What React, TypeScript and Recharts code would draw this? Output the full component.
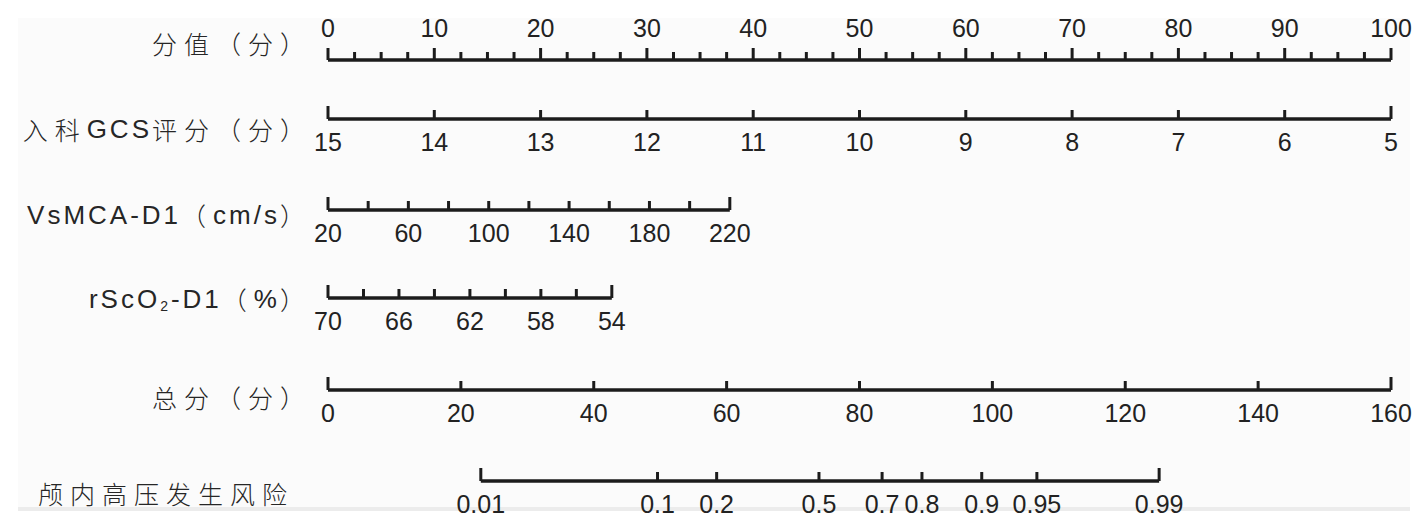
import { ScatterChart, Scatter, XAxis, YAxis, ReferenceLine } from 'recharts'

// row names (left column)
const rowNames = ['分值（分）', '入科GCS评分（分）', 'VsMCA-D1（cm/s）', 'rScO2-D1（%）', '总分（分）', '颅内高压发生风险']

// points scale
const pointMajor = [0, 10, 20, 30, 40, 50, 60, 70, 80, 90, 100]
const pointMinor = [2.5, 5, 7.5, 12.5, 15, 17.5, 22.5, 25, 27.5, 32.5, 35, 37.5, 42.5, 45, 47.5, 52.5, 55, 57.5,
  62.5, 65, 67.5, 72.5, 75, 77.5, 82.5, 85, 87.5, 92.5, 95, 97.5]

// GCS on admission
const gcsTicks = [15, 14, 13, 12, 11, 10, 9, 8, 7, 6, 5]
const gcsEnds = [15, 5]
const gcsMaxPoints = 100

// VsMCA-D1
const vsmcaTicks = [20, 40, 60, 80, 100, 120, 140, 160, 180, 200, 220]
const vsmcaLabels = [20, 60, 100, 140, 180, 220]
const vsmcaEnds = [20, 220]
const vsmcaMaxPoints = 37.8

// rScO2-D1
const rsco2Ticks = [70, 68, 66, 64, 62, 60, 58, 56, 54]
const rsco2Labels = [70, 66, 62, 58, 54]
const rsco2Ends = [70, 54]
const rsco2MaxPoints = 26.7

// total points
const totalTicks = [0, 20, 40, 60, 80, 100, 120, 140, 160]

// risk of intracranial hypertension, placed on total points
const riskLabels = ['0.01', '0.1', '0.2', '0.5', '0.7', '0.8', '0.9', '0.95', '0.99']
const riskTotal = [23.0, 49.6, 58.5, 73.9, 83.4, 89.4, 98.4, 106.7, 125.1]

// layout (pixel rows)
const W = 1421
const H = 529
const lineY = [60, 119, 210, 298, 390, 481]
const labelY = [43, 129, 215, 299, 397, 493]
const labelRight = [312, 312, 312, 312, 312, 294]

const INK = '#1c1c1c'
const NUM_FONT = '"Liberation Sans", Arial, sans-serif'
const CJK_FONT = '"Noto Sans CJK SC", sans-serif'

type Tick = { x: number; y: number; h: number; label?: string; above?: boolean }

const toPoints = (v: number, ends: number[], max: number) => ((v - ends[0]) / (ends[1] - ends[0])) * max
const endH = (i: number, n: number) => (i === 0 || i === n - 1 ? 13 : 9)

const pointsData: Tick[] = [
  ...pointMajor.map(v => ({ x: v, y: lineY[0], h: 12, label: String(v), above: true })),
  ...pointMinor.map(v => ({ x: v, y: lineY[0], h: 8 })),
]
const gcsData: Tick[] = gcsTicks.map((v, i) => ({
  x: toPoints(v, gcsEnds, gcsMaxPoints), y: lineY[1], h: endH(i, gcsTicks.length), label: String(v),
}))
const vsmcaData: Tick[] = vsmcaTicks.map((v, i) => ({
  x: toPoints(v, vsmcaEnds, vsmcaMaxPoints), y: lineY[2], h: endH(i, vsmcaTicks.length),
  label: vsmcaLabels.includes(v) ? String(v) : undefined,
}))
const rsco2Data: Tick[] = rsco2Ticks.map((v, i) => ({
  x: toPoints(v, rsco2Ends, rsco2MaxPoints), y: lineY[3], h: endH(i, rsco2Ticks.length),
  label: rsco2Labels.includes(v) ? String(v) : undefined,
}))
const totalData: Tick[] = totalTicks.map((v, i) => ({ x: v, y: lineY[4], h: endH(i, totalTicks.length), label: String(v) }))
const riskData: Tick[] = riskTotal.map((v, i) => ({ x: v, y: lineY[5], h: endH(i, riskTotal.length), label: riskLabels[i] }))

const TickMark = (props: any) => {
  const { cx, cy, payload } = props
  if (cx == null || cy == null) return null
  return (
    <g>
      <line x1={cx} x2={cx} y1={cy} y2={cy - payload.h} stroke={INK} strokeWidth={3} />
      {payload.label !== undefined && (
        <text
          x={cx}
          y={payload.above ? cy - 32 : cy + 23}
          textAnchor="middle"
          dominantBaseline="central"
          fontSize={25}
          fontFamily={NUM_FONT}
          fill="#222"
        >
          {payload.label}
        </text>
      )}
    </g>
  )
}

// split a label into CJK and latin runs so each gets its own font and spacing
const CJK_RUN = /[\u3000-\u9fff\uff00-\uffef]+|[^\u3000-\u9fff\uff00-\uffef]+/g
const isCjk = (s: string) => /[\u3000-\u9fff\uff00-\uffef]/.test(s)

const renderRuns = (name: string) => {
  const out: any[] = []
  let k = 0
  for (const run of name.match(CJK_RUN) || []) {
    if (isCjk(run)) {
      out.push(<tspan key={k++} fontFamily={CJK_FONT} fontSize={25} fontWeight={300} letterSpacing={7}>{run}</tspan>)
    } else if (run.includes('O2')) {
      const [a, b] = run.split('O2')
      out.push(<tspan key={k++} fontFamily={NUM_FONT} fontSize={26} letterSpacing={3}>{a}O</tspan>)
      out.push(<tspan key={k++} fontFamily={NUM_FONT} fontSize={14} dy={7} letterSpacing={3}>2</tspan>)
      out.push(<tspan key={k++} fontFamily={NUM_FONT} fontSize={26} dy={-7} letterSpacing={3}>{b}</tspan>)
    } else {
      out.push(<tspan key={k++} fontFamily={NUM_FONT} fontSize={26} letterSpacing={3}>{run}</tspan>)
    }
  }
  return out
}

const RowLabel = (props: any) => {
  const { y, payload } = props
  const i = labelY.indexOf(payload.value)
  if (i < 0) return null
  return (
    <text x={labelRight[i]} y={y} textAnchor="end" dominantBaseline="central" fill="#262626">
      {renderRuns(rowNames[i])}
    </text>
  )
}

const segment = (y: number, x0: number, x1: number) => [{ x: x0, y }, { x: x1, y }]

export default function App() {
  return (
    <div style={{ position: 'absolute', left: 0, top: 0, width: W, height: H, background: '#fff' }}>
      <div style={{ position: 'absolute', left: 18, top: 18, width: 1392, height: 489, background: '#fbfbfb' }} />
      <div style={{ position: 'absolute', left: 18, top: 507, width: 1392, height: 4, background: '#ececec' }} />
      <div style={{ position: 'absolute', left: 0, top: 0 }}>
        <ScatterChart width={W} height={H} margin={{ top: 0, right: 30, bottom: 0, left: 0 }}>
          <XAxis xAxisId="pts" dataKey="x" type="number" domain={[0, 100]} hide />
          <XAxis xAxisId="tot" dataKey="x" type="number" domain={[0, 160]} hide />
          <YAxis
            yAxisId="rows"
            dataKey="y"
            type="number"
            domain={[0, H]}
            reversed
            width={328}
            ticks={labelY}
            interval={0}
            axisLine={false}
            tickLine={false}
            tick={<RowLabel />}
          />
          <ReferenceLine xAxisId="pts" yAxisId="rows" segment={segment(lineY[0], 0, 100)} stroke={INK} strokeWidth={3.5} />
          <ReferenceLine xAxisId="pts" yAxisId="rows" segment={segment(lineY[1], 0, gcsMaxPoints)} stroke={INK} strokeWidth={3.5} />
          <ReferenceLine xAxisId="pts" yAxisId="rows" segment={segment(lineY[2], 0, vsmcaMaxPoints)} stroke={INK} strokeWidth={3.5} />
          <ReferenceLine xAxisId="pts" yAxisId="rows" segment={segment(lineY[3], 0, rsco2MaxPoints)} stroke={INK} strokeWidth={3.5} />
          <ReferenceLine xAxisId="tot" yAxisId="rows" segment={segment(lineY[4], 0, 160)} stroke={INK} strokeWidth={3.5} />
          <ReferenceLine xAxisId="tot" yAxisId="rows" segment={segment(lineY[5], riskTotal[0], riskTotal[riskTotal.length - 1])} stroke={INK} strokeWidth={3.5} />
          <Scatter xAxisId="pts" yAxisId="rows" data={pointsData} shape={TickMark} isAnimationActive={false} />
          <Scatter xAxisId="pts" yAxisId="rows" data={gcsData} shape={TickMark} isAnimationActive={false} />
          <Scatter xAxisId="pts" yAxisId="rows" data={vsmcaData} shape={TickMark} isAnimationActive={false} />
          <Scatter xAxisId="pts" yAxisId="rows" data={rsco2Data} shape={TickMark} isAnimationActive={false} />
          <Scatter xAxisId="tot" yAxisId="rows" data={totalData} shape={TickMark} isAnimationActive={false} />
          <Scatter xAxisId="tot" yAxisId="rows" data={riskData} shape={TickMark} isAnimationActive={false} />
        </ScatterChart>
      </div>
    </div>
  )
}
